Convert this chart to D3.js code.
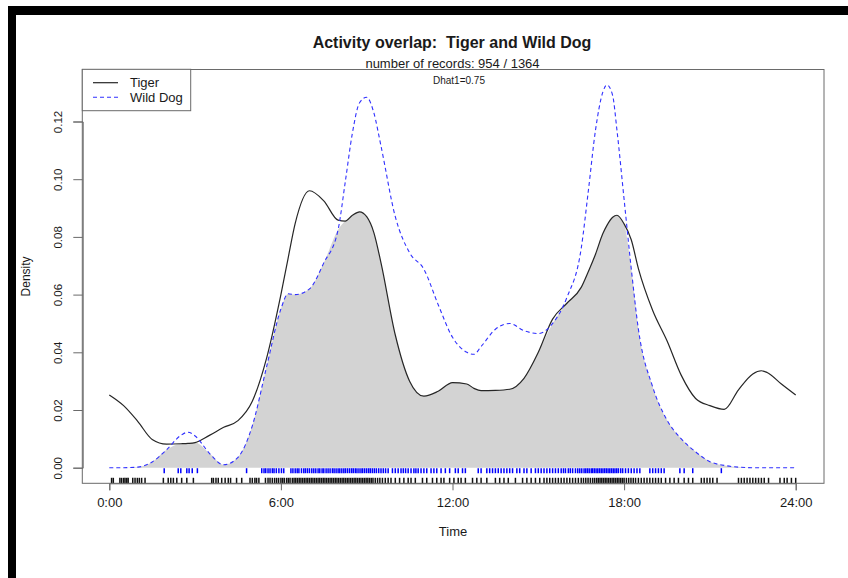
<!DOCTYPE html>
<html>
<head>
<meta charset="utf-8">
<script src="https://cdn.jsdelivr.net/npm/d3@7"></script>
<style>
  html, body { margin: 0; padding: 0; background: #fff; }
  svg { display: block; font-family: "Liberation Sans", Arial, Helvetica, sans-serif; }
  text { white-space: pre; }
</style>
</head>
<body>
<svg id="chart" width="848" height="578"></svg>
<script>
// Kernel density estimates (time of day in hours, density)
const hours = [0, 0.5, 1, 1.5, 2, 2.5, 2.75, 3, 3.5, 4, 4.5, 5, 5.5, 6, 6.25, 6.5, 7, 7.5, 8, 8.25,
  8.5, 8.75, 9, 9.25, 9.5, 10, 10.5, 11, 11.5, 12, 12.5, 12.75, 13, 13.5, 14, 14.5, 15, 15.5, 16,
  16.5, 16.75, 17, 17.25, 17.4, 17.6, 17.75, 18, 18.25, 18.5, 19, 19.5, 20, 20.5, 21, 21.5, 22,
  22.5, 22.8, 23, 23.5, 24];

const tiger = [0.0252, 0.0215, 0.0160, 0.0098, 0.0082, 0.0083, 0.0084, 0.0087, 0.0112, 0.0140,
  0.0163, 0.0230, 0.0380, 0.0600, 0.0725, 0.0847, 0.0960, 0.0925, 0.0858, 0.0855, 0.0875, 0.0887,
  0.0870, 0.0815, 0.0710, 0.0460, 0.0300, 0.0248, 0.0265, 0.0295, 0.0290, 0.0275, 0.0267, 0.0268,
  0.0272, 0.0310, 0.0400, 0.0515, 0.0570, 0.0625, 0.0680, 0.0740, 0.0810, 0.0840, 0.0868, 0.0875,
  0.0845, 0.0790, 0.0690, 0.0545, 0.0440, 0.0320, 0.0240, 0.0215, 0.0202, 0.0270, 0.0325, 0.0336,
  0.0330, 0.0290, 0.0252];

const wildDog = [0.0000, 0.0000, 0.0002, 0.0020, 0.0062, 0.0112, 0.0123, 0.0110, 0.0050, 0.0010,
  0.0036, 0.0145, 0.0350, 0.0550, 0.0603, 0.0600, 0.0620, 0.0710, 0.0825, 0.0990, 0.1160, 0.1265,
  0.1284, 0.1230, 0.1115, 0.0870, 0.0745, 0.0688, 0.0565, 0.0452, 0.0400, 0.0393, 0.0420, 0.0480,
  0.0500, 0.0475, 0.0465, 0.0500, 0.0590, 0.0760, 0.0960, 0.1170, 0.1300, 0.1327, 0.1290, 0.1170,
  0.0930, 0.0690, 0.0480, 0.0280, 0.0165, 0.0100, 0.0055, 0.0021, 0.0008, 0.0002, 0.0000, 0.0000,
  0.0000, 0.0000, 0.0000];

// Observation times (hours) shown as rugs
const wildDogRug = [1.92, 2.41, 2.5, 2.71, 2.79, 2.9, 3.08, 4.8,
  5.33, 5.41, 5.47, 5.55, 5.62, 5.7, 5.76, 5.84, 5.93, 6.02, 6.1, 6.35, 6.42, 6.5, 6.57, 6.63,
  6.72, 6.8, 6.86, 6.93, 7.0, 7.08, 7.15, 7.22, 7.3, 7.36, 7.44, 7.5, 7.58, 7.65, 7.72, 7.8, 7.86,
  7.93, 8.0, 8.06, 8.13, 8.2, 8.26, 8.33, 8.4, 8.47, 8.53, 8.6, 8.66, 8.73, 8.8, 8.86, 8.93, 9.0,
  9.07, 9.13, 9.2, 9.27, 9.34, 9.42, 9.5, 9.58, 9.66, 9.75, 9.9, 10.0, 10.1, 10.2, 10.28, 10.36,
  10.45, 10.55, 10.65, 10.72, 10.8, 10.9, 11.0, 11.1, 11.25, 11.35, 11.45, 11.6, 11.75, 11.9,
  12.1, 12.2, 12.35, 12.45, 12.9, 13.0, 13.2, 13.3, 13.4, 13.5, 13.6, 13.7, 13.8, 13.9, 14.0,
  14.1, 14.25, 14.35, 14.5, 14.6, 14.75, 14.9, 15.0, 15.1, 15.2, 15.3, 15.4, 15.5, 15.6, 15.7,
  15.8, 15.88, 15.95, 16.05, 16.12, 16.2, 16.3, 16.38, 16.45, 16.52, 16.6, 16.66, 16.72, 16.78,
  16.85, 16.9, 16.96, 17.02, 17.08, 17.14, 17.2, 17.26, 17.32, 17.38, 17.44, 17.5, 17.56, 17.62,
  17.68, 17.74, 17.8, 17.88, 17.95, 18.05, 18.15, 18.25, 18.35, 18.45, 18.55, 18.9, 19.0, 19.1,
  19.2, 19.3, 19.4, 19.95, 20.1, 20.4, 21.4];

const tigerRug = [0.08, 0.14, 0.37, 0.43, 0.5, 0.55, 0.61, 0.66, 0.82, 0.9, 0.98, 1.05, 1.13, 1.25,
  1.89, 2.06, 2.15, 2.24, 2.36, 2.53, 2.71, 2.94, 3.58, 3.64, 3.73, 3.81, 3.93, 4.05, 4.16, 4.24,
  4.45, 4.63, 4.92, 5.0, 5.09, 5.15, 5.23,
  5.46, 5.55, 5.62, 5.7, 5.78, 5.85, 5.92, 6.0, 6.06, 6.12, 6.2, 6.26, 6.32, 6.4, 6.46, 6.52, 6.58,
  6.64, 6.7, 6.76, 6.82, 6.88, 6.94, 7.0, 7.06, 7.12, 7.18, 7.24, 7.3, 7.36, 7.42, 7.48, 7.54, 7.6,
  7.66, 7.72, 7.78, 7.84, 7.9, 7.96, 8.02, 8.08, 8.14, 8.2, 8.26, 8.32, 8.38, 8.44, 8.5, 8.56, 8.62,
  8.68, 8.74, 8.8, 8.86, 8.92, 8.98, 9.04, 9.1, 9.16, 9.22, 9.3, 9.38, 9.46, 9.55, 9.65, 9.75, 9.85,
  10.0, 10.15, 10.3, 10.45, 10.55, 10.7, 10.95, 11.1, 11.3, 11.45, 11.6, 11.7, 11.9, 12.05, 12.2,
  12.3, 12.45, 12.7, 12.85, 13.0, 13.2, 13.5, 13.65, 13.8, 13.95, 14.2, 14.45, 14.6, 14.75, 14.9,
  15.05, 15.2, 15.3, 15.4, 15.5, 15.6, 15.7, 15.8, 15.9, 16.0, 16.1, 16.2, 16.3, 16.4, 16.5, 16.58,
  16.66, 16.74, 16.82, 16.9, 16.97, 17.04, 17.1, 17.16, 17.22, 17.28, 17.34, 17.4, 17.46, 17.52,
  17.58, 17.64, 17.7, 17.76, 17.82, 17.88, 17.94, 18.0, 18.08, 18.16, 18.24, 18.32, 18.4, 18.5,
  18.6, 18.7, 18.8, 18.9, 19.0, 19.1, 19.2, 19.3, 19.45, 19.6, 19.75, 19.9, 20.1, 20.25, 20.4,
  20.7, 20.8, 20.9, 21.0, 21.1, 21.25, 22.0, 22.1, 22.2, 22.3, 22.4, 22.5, 22.6, 22.7, 22.8, 22.9,
  23.05, 23.45, 23.6, 23.7, 23.85, 24.0];

const xTicks = [0, 6, 12, 18, 24];
const xTickLabels = ["0:00", "6:00", "12:00", "18:00", "24:00"];
const yTicks = [0, 0.02, 0.04, 0.06, 0.08, 0.10, 0.12];

const titleText = "Activity overlap:  Tiger and Wild Dog";
const subtitleText = "number of records: 954 / 1364";
const dhatText = "Dhat1=0.75";
const legendLabels = ["Tiger", "Wild Dog"];

// ---- layout ----
const svg = d3.select("#chart");
const box = { left: 82.3, right: 824, top: 69.5, bottom: 483.3 };

const x = d3.scaleLinear().domain([0, 24]).range([109.3, 795.7]);
const y = d3.scaleLinear().domain([0, 0.12]).range([467.7, 121.5]);

const lineCol = "#262626";
const dogCol = "#3030ff";
const axisCol = "#6a6a6a";
const textCol = "#1a1a1a";

// frame bands along the top and left edges
svg.append("rect").attr("x", 8).attr("y", 6).attr("width", 840).attr("height", 9).attr("fill", "#000");
svg.append("rect").attr("x", 8).attr("y", 6).attr("width", 8).attr("height", 572).attr("fill", "#000");

// overlap area: the lower of the two densities
const series = hours.map((h, i) => ({ h, t: tiger[i], d: wildDog[i] }));
svg.append("path")
  .datum(series)
  .attr("fill", "#d3d3d3")
  .attr("d", d3.area()
    .x(p => x(p.h))
    .y0(y(0))
    .y1(p => y(Math.min(p.t, p.d)))
    .curve(d3.curveMonotoneX));

// rugs
svg.append("g").selectAll("line").data(wildDogRug).join("line")
  .attr("x1", d => x(d)).attr("x2", d => x(d))
  .attr("y1", y(0) + 0.5).attr("y2", y(0) + 5.5)
  .attr("stroke", "#0000ff").attr("stroke-width", 1.5);
svg.append("g").selectAll("line").data(tigerRug).join("line")
  .attr("x1", d => x(d)).attr("x2", d => x(d))
  .attr("y1", box.bottom - 5.5).attr("y2", box.bottom)
  .attr("stroke", "#111").attr("stroke-width", 1.5);

// density curves
svg.append("path")
  .datum(series)
  .attr("fill", "none").attr("stroke", lineCol).attr("stroke-width", 1.2)
  .attr("d", d3.line().x(p => x(p.h)).y(p => y(p.t)).curve(d3.curveMonotoneX));
svg.append("path")
  .datum(series)
  .attr("fill", "none").attr("stroke", dogCol).attr("stroke-width", 1.1)
  .attr("stroke-dasharray", "4,3")
  .attr("d", d3.line().x(p => x(p.h)).y(p => y(p.d)).curve(d3.curveMonotoneX));

// plot box
svg.append("rect")
  .attr("x", box.left).attr("y", box.top)
  .attr("width", box.right - box.left).attr("height", box.bottom - box.top)
  .attr("fill", "none").attr("stroke", axisCol).attr("stroke-width", 1);

// x axis
const xAxis = d3.axisBottom(x).tickValues(xTicks).tickSize(7).tickPadding(7)
  .tickFormat((d, i) => xTickLabels[i]);
const gx = svg.append("g").attr("transform", `translate(0,${box.bottom})`).call(xAxis);
gx.select(".domain").attr("stroke", axisCol);
gx.selectAll(".tick line").attr("stroke", axisCol);
gx.selectAll(".tick text").attr("fill", textCol).attr("font-size", 13)
  .attr("font-family", "Liberation Sans, Arial, sans-serif");

// y axis with labels rotated parallel to the axis
const yAxis = d3.axisLeft(y).tickValues(yTicks).tickSize(9.4).tickFormat(d3.format(".2f"));
const gy = svg.append("g").attr("transform", `translate(${box.left + 0.4},0)`).call(yAxis);
gy.select(".domain").attr("stroke", axisCol);
gy.selectAll(".tick line").attr("stroke", axisCol);
gy.selectAll(".tick text")
  .attr("fill", textCol).attr("font-size", 11.5)
  .attr("font-family", "Liberation Sans, Arial, sans-serif")
  .attr("x", null).attr("dy", null)
  .attr("text-anchor", "middle")
  .attr("dominant-baseline", "central")
  .attr("transform", "translate(-24.4,0) rotate(-90)");

// titles
svg.append("text").attr("x", 452).attr("y", 47.5).attr("text-anchor", "middle")
  .attr("font-size", 16).attr("font-weight", "bold").attr("fill", textCol).text(titleText);
svg.append("text").attr("x", 452.5).attr("y", 68).attr("text-anchor", "middle")
  .attr("font-size", 13).attr("fill", textCol).text(subtitleText);
svg.append("text").attr("x", 459).attr("y", 84.3).attr("text-anchor", "middle")
  .attr("font-size", 10).attr("fill", textCol).text(dhatText);

// axis titles
svg.append("text").attr("x", 453).attr("y", 536).attr("text-anchor", "middle")
  .attr("font-size", 13).attr("fill", textCol).text("Time");
svg.append("text").attr("transform", "translate(26,276.4) rotate(-90)")
  .attr("text-anchor", "middle").attr("dominant-baseline", "central")
  .attr("font-size", 12).attr("fill", textCol).text("Density");

// legend
const lg = svg.append("g");
lg.append("rect").attr("x", box.left).attr("y", 69.3).attr("width", 108.4).attr("height", 41.4)
  .attr("fill", "#fff").attr("stroke", axisCol);
lg.append("line").attr("x1", 93).attr("x2", 118).attr("y1", 82.7).attr("y2", 82.7)
  .attr("stroke", lineCol).attr("stroke-width", 1.2);
lg.append("line").attr("x1", 93).attr("x2", 118).attr("y1", 97.3).attr("y2", 97.3)
  .attr("stroke", dogCol).attr("stroke-width", 1.1).attr("stroke-dasharray", "4,3");
lg.selectAll("text.lab").data(legendLabels).join("text").attr("class", "lab")
  .attr("x", 130).attr("y", (d, i) => i === 0 ? 82.7 : 97.3)
  .attr("dominant-baseline", "central")
  .attr("font-size", 13).attr("fill", textCol).text(d => d);
</script>
</body>
</html>
